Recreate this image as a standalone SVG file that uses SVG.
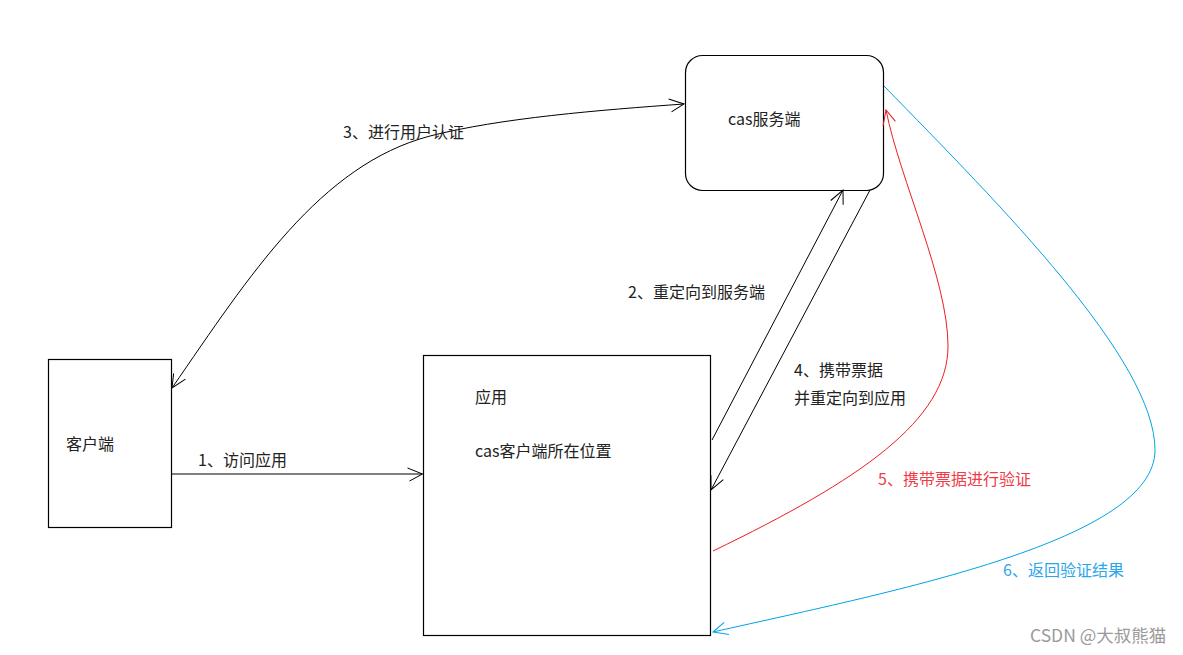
<svg xmlns="http://www.w3.org/2000/svg" width="1183" height="655" viewBox="0 0 1183 655">
<style>
.box{fill:#fff;stroke:#000;stroke-width:1.2}
.t{font-family:"Noto Sans CJK SC","Microsoft YaHei",sans-serif;font-size:16px;fill:#222}
.c{fill:none;stroke:#000;stroke-width:1}
.red{fill:none;stroke:#ED1C24;stroke-width:1}
.blue{fill:none;stroke:#00A2E8;stroke-width:1}
</style>
<defs>
<marker id="ab" markerUnits="userSpaceOnUse" markerWidth="20" markerHeight="20" refX="0" refY="0" viewBox="-16 -10 20 20" orient="auto-start-reverse">
<path d="M-15,-6 L0,0 L-13,7" fill="none" stroke="#000" stroke-width="1"/>
</marker>
<marker id="ar" markerUnits="userSpaceOnUse" markerWidth="20" markerHeight="20" refX="0" refY="0" viewBox="-16 -10 20 20" orient="auto">
<path d="M-15,-6 L0,0 L-13,7" fill="none" stroke="#ED1C24" stroke-width="1"/>
</marker>
<marker id="au" markerUnits="userSpaceOnUse" markerWidth="20" markerHeight="20" refX="0" refY="0" viewBox="-16 -10 20 20" orient="auto">
<path d="M-15,-6 L0,0 L-13,7" fill="none" stroke="#00A2E8" stroke-width="1"/>
</marker>
</defs>
<rect width="1183" height="655" fill="#fff"/>
<g id="client">
<rect class="box" x="48.5" y="359.5" width="123" height="168"/>
<text class="t" x="66" y="449.5">客户端</text>
</g>
<g id="app">
<rect class="box" x="423.5" y="355.5" width="287" height="280"/>
<text class="t" x="475" y="402.5">应用</text>
<text class="t" x="475" y="456.5">cas客户端所在位置</text>
</g>
<g id="cas-server">
<rect class="box" x="685.5" y="55.5" width="198" height="135" rx="17" ry="17"/>
<text class="t" x="728" y="124.5">cas服务端</text>
</g>
<g id="connectors">
<path class="c" d="M171.5,474 L422.5,474" marker-end="url(#ab)"/>
<path class="c" d="M712,440 L843,190" marker-end="url(#ab)"/>
<path class="c" d="M870,190 L711,490" marker-end="url(#ab)"/>
<path class="c" d="M172,388 C250,275 320,165 430,136 C500,118 600,110 684,104" marker-start="url(#ab)" marker-end="url(#ab)"/>
<path class="red" d="M713,551 C860,480 948,420 948,346 C948,280 900,180 886,110" marker-end="url(#ar)"/>
<path class="blue" d="M884,86 C1000,205 1155,360 1155,450 C1155,540 900,590 713,632" marker-end="url(#au)"/>
</g>
<g id="labels">
<text class="t" x="628" y="297.5">2、重定向到服务端</text>
<text class="t" x="343" y="137.5">3、进行用户认证</text>
<text class="t" x="794" y="375.5">4、携带票据</text>
<text class="t" x="794" y="403.5">并重定向到应用</text>
<text class="t" x="198" y="465.5">1、访问应用</text>
<text class="t" x="878" y="484.5" style="fill:#F03C48">5、携带票据进行验证</text>
<text class="t" x="1003" y="575.5" style="fill:#2AA6EC">6、返回验证结果</text>
<text class="t" x="1030" y="642" style="fill:#9a9a9a;font-size:17.5px">CSDN @大叔熊猫</text>
</g>
</svg>
